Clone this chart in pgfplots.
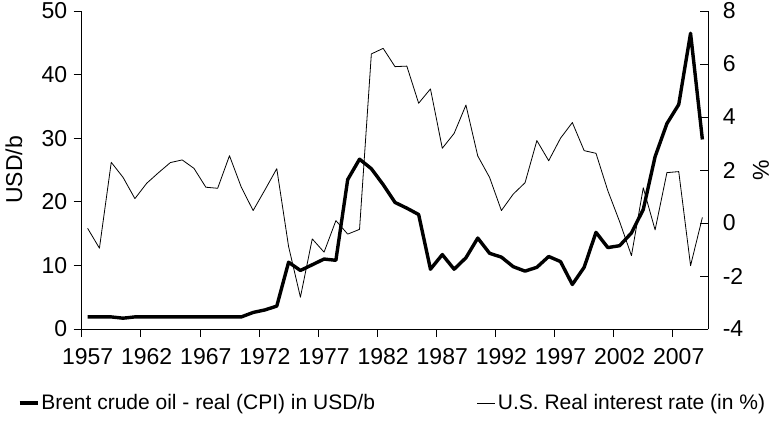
\documentclass[border=0pt]{standalone}
\usepackage{pgfplots}
\pgfplotsset{compat=1.18}
\usepackage{fontspec}
\setmainfont{Liberation Sans}
\newcommand{\bigf}{\fontsize{23}{27}\selectfont}
\newcommand{\legf}{\fontsize{21}{25}\selectfont}

\begin{document}
\begin{tikzpicture}
\useasboundingbox (0,0) rectangle (773pt,423pt);
\begin{axis}[
  at={(81.7pt,94pt)}, anchor=south west,
  scale only axis, width=626.6pt, height=318pt,
  xmin=1956.5, xmax=2009.5, ymin=0, ymax=50,
  axis x line*=bottom, axis y line*=left,
  axis line style={line width=0.8pt, -},
  every tick/.style={black, line width=0.8pt},
  tick align=outside, major tick length=8pt,
  xtick={1956.5,1961.5,1966.5,1971.5,1976.5,1981.5,1986.5,1991.5,1996.5,2001.5,2006.5},
  xticklabels={1957,1962,1967,1972,1977,1982,1987,1992,1997,2002,2007},
  xticklabel style={xshift=5.9pt, yshift=-8pt},
  ytick={0,10,20,30,40,50},
  yticklabel style={xshift=-3pt},
  ticklabel style={font=\bigf},
  /pgf/number format/assume math mode=true,
  ylabel={USD/b},
  every axis y label/.style={at={(axis description cs:-0.108,0.5)}, rotate=90, anchor=center, font=\bigf},
  clip=false,
  legend columns=2,
  legend style={draw=none, fill=none, at={(0.496,-0.233)}, anchor=center, font=\legf,
    /tikz/every even column/.append style={column sep=100pt}},
  legend image code/.code={\draw[#1] (0pt,0pt) -- (18pt,0pt);},
]
\addplot[black, line width=3.4pt, line join=round, mark=none] coordinates {
(1957,1.9)(1958,1.9)(1959,1.9)(1960,1.7)(1961,1.9)(1962,1.9)(1963,1.9)(1964,1.9)
(1965,1.9)(1966,1.9)(1967,1.9)(1968,1.9)(1969,1.9)(1970,1.9)(1971,2.6)(1972,3.0)
(1973,3.6)(1974,10.5)(1975,9.2)(1976,10.1)(1977,11.0)(1978,10.8)(1979,23.5)(1980,26.7)
(1981,25.2)(1982,22.7)(1983,19.9)(1984,19.0)(1985,18.0)(1986,9.4)(1987,11.7)(1988,9.4)
(1989,11.2)(1990,14.3)(1991,11.9)(1992,11.3)(1993,9.8)(1994,9.1)(1995,9.7)(1996,11.4)
(1997,10.6)(1998,7.0)(1999,9.7)(2000,15.2)(2001,12.8)(2002,13.1)(2003,15.1)(2004,18.8)
(2005,27.1)(2006,32.3)(2007,35.3)(2008,46.5)(2009,29.8)
};
\addlegendentry{Brent crude oil - real (CPI) in USD/b}
\addlegendimage{black, line width=0.8pt}
\addlegendentry{U.S. Real interest rate (in \%)}
\end{axis}
\begin{axis}[
  at={(81.7pt,94pt)}, anchor=south west,
  scale only axis, width=626.6pt, height=318pt,
  xmin=1956.5, xmax=2009.5, ymin=-4, ymax=8,
  axis x line=none, axis y line*=right,
  axis line style={line width=0.8pt, -},
  every tick/.style={black, line width=0.8pt},
  tick align=inside, major tick length=8pt,
  ytick={-4,-2,0,2,4,6,8},
  yticklabel style={anchor=west, xshift=11pt},
  ticklabel style={font=\bigf},
  /pgf/number format/assume math mode=true,
  ylabel={\%},
  every axis y label/.style={at={(axis description cs:1.084,0.5)}, rotate=90, anchor=center, font=\bigf},
  clip=false,
]
\addplot[black, line width=0.8pt, line join=round, mark=none] coordinates {
(1957,-0.2)(1958,-0.95)(1959,2.29)(1960,1.72)(1961,0.92)(1962,1.5)(1963,1.9)(1964,2.28)
(1965,2.38)(1966,2.06)(1967,1.35)(1968,1.31)(1969,2.54)(1970,1.35)(1971,0.47)(1972,1.25)
(1973,2.05)(1974,-0.89)(1975,-2.8)(1976,-0.6)(1977,-1.1)(1978,0.09)(1979,-0.42)(1980,-0.24)
(1981,6.38)(1982,6.59)(1983,5.9)(1984,5.92)(1985,4.52)(1986,5.06)(1987,2.82)(1988,3.38)
(1989,4.45)(1990,2.53)(1991,1.72)(1992,0.47)(1993,1.09)(1994,1.52)(1995,3.11)(1996,2.35)
(1997,3.2)(1998,3.79)(1999,2.73)(2000,2.63)(2001,1.22)(2002,0.05)(2003,-1.23)(2004,1.33)
(2005,-0.26)(2006,1.9)(2007,1.94)(2008,-1.61)(2009,0.21)
};
\end{axis}
\end{tikzpicture}
\end{document}
